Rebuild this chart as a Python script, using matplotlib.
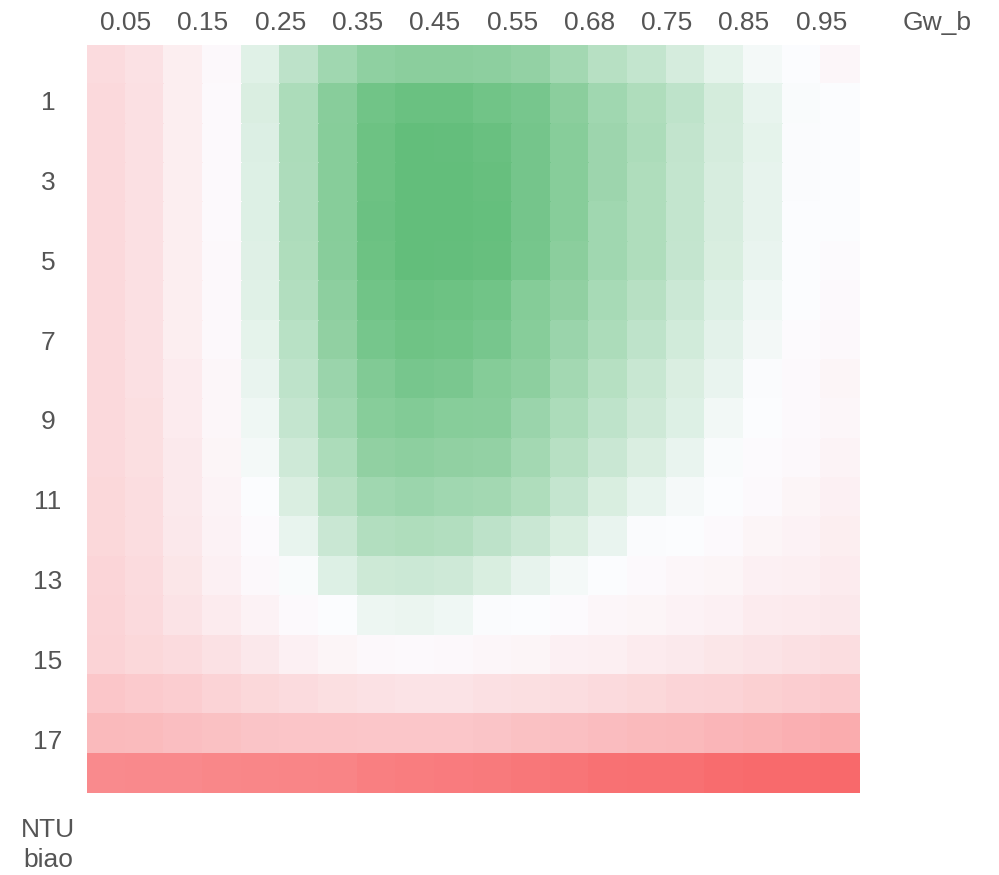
import numpy as np
import matplotlib
matplotlib.use("Agg")
import matplotlib.pyplot as plt
from matplotlib.colors import LinearSegmentedColormap

# column / row labels (only every other cell is labelled)
x_labels = ['0.05', '0.15', '0.25', '0.35', '0.45', '0.55', '0.68', '0.75', '0.85', '0.95']
y_labels = ['1', '3', '5', '7', '9', '11', '13', '15', '17']

# colour-scale score: -1 = full red, 0 = white, 1 = full green
score = [
    [-0.22, -0.18, -0.10, -0.03, 0.18, 0.41, 0.60, 0.71, 0.74, 0.74, 0.72, 0.68, 0.58, 0.45, 0.37, 0.25, 0.15, 0.05, 0.00, -0.04],
    [-0.24, -0.19, -0.10, -0.02, 0.22, 0.52, 0.75, 0.90, 0.95, 0.95, 0.90, 0.86, 0.74, 0.60, 0.50, 0.40, 0.26, 0.13, 0.02, 0.00],
    [-0.24, -0.19, -0.10, -0.02, 0.21, 0.52, 0.76, 0.93, 1.00, 0.99, 0.96, 0.88, 0.76, 0.62, 0.52, 0.38, 0.25, 0.15, 0.01, 0.00],
    [-0.24, -0.19, -0.10, -0.02, 0.20, 0.51, 0.76, 0.93, 1.00, 1.00, 0.97, 0.88, 0.76, 0.62, 0.50, 0.37, 0.24, 0.14, 0.01, 0.00],
    [-0.24, -0.19, -0.10, -0.02, 0.20, 0.51, 0.76, 0.94, 1.00, 1.00, 0.98, 0.88, 0.76, 0.60, 0.50, 0.37, 0.24, 0.14, 0.00, 0.00],
    [-0.24, -0.19, -0.10, -0.03, 0.19, 0.50, 0.75, 0.93, 1.00, 0.99, 0.97, 0.87, 0.74, 0.60, 0.50, 0.36, 0.23, 0.12, 0.00, -0.01],
    [-0.24, -0.19, -0.10, -0.03, 0.18, 0.48, 0.72, 0.90, 0.95, 0.93, 0.90, 0.78, 0.70, 0.55, 0.45, 0.32, 0.20, 0.08, 0.00, -0.02],
    [-0.24, -0.19, -0.10, -0.03, 0.15, 0.44, 0.70, 0.87, 0.92, 0.90, 0.86, 0.76, 0.64, 0.52, 0.40, 0.28, 0.16, 0.06, -0.01, -0.03],
    [-0.24, -0.19, -0.11, -0.04, 0.12, 0.40, 0.64, 0.80, 0.86, 0.85, 0.78, 0.72, 0.58, 0.46, 0.34, 0.22, 0.12, 0.01, -0.02, -0.05],
    [-0.24, -0.20, -0.11, -0.04, 0.08, 0.36, 0.60, 0.76, 0.79, 0.76, 0.75, 0.64, 0.52, 0.40, 0.30, 0.20, 0.07, 0.00, -0.02, -0.04],
    [-0.24, -0.20, -0.13, -0.05, 0.05, 0.30, 0.52, 0.70, 0.72, 0.70, 0.68, 0.58, 0.45, 0.33, 0.22, 0.12, 0.02, -0.01, -0.03, -0.06],
    [-0.25, -0.21, -0.13, -0.06, 0.00, 0.22, 0.45, 0.60, 0.63, 0.60, 0.58, 0.50, 0.36, 0.23, 0.13, 0.04, 0.00, -0.02, -0.05, -0.08],
    [-0.25, -0.21, -0.14, -0.07, -0.01, 0.13, 0.33, 0.48, 0.50, 0.48, 0.41, 0.33, 0.23, 0.12, 0.01, 0.00, -0.02, -0.05, -0.07, -0.10],
    [-0.26, -0.22, -0.15, -0.08, -0.03, 0.02, 0.20, 0.31, 0.32, 0.30, 0.23, 0.14, 0.05, 0.00, -0.02, -0.04, -0.05, -0.08, -0.09, -0.11],
    [-0.27, -0.23, -0.17, -0.11, -0.07, -0.02, 0.00, 0.10, 0.11, 0.08, 0.01, 0.00, -0.01, -0.04, -0.05, -0.07, -0.08, -0.11, -0.12, -0.14],
    [-0.28, -0.25, -0.22, -0.18, -0.14, -0.08, -0.05, -0.03, -0.02, -0.03, -0.04, -0.05, -0.08, -0.09, -0.11, -0.13, -0.15, -0.17, -0.19, -0.21],
    [-0.36, -0.34, -0.32, -0.28, -0.25, -0.22, -0.20, -0.18, -0.17, -0.17, -0.19, -0.20, -0.21, -0.23, -0.25, -0.27, -0.28, -0.30, -0.32, -0.34],
    [-0.45, -0.44, -0.42, -0.40, -0.38, -0.37, -0.37, -0.36, -0.36, -0.36, -0.38, -0.40, -0.41, -0.43, -0.45, -0.46, -0.48, -0.50, -0.52, -0.54],
    [-0.77, -0.78, -0.78, -0.79, -0.80, -0.81, -0.82, -0.85, -0.86, -0.87, -0.88, -0.90, -0.92, -0.94, -0.95, -0.95, -0.97, -0.99, -0.99, -1.00],
]

plt.rcParams['font.family'] = ['Liberation Sans', 'DejaVu Sans']
txt_color = '#555555'

cmap = LinearSegmentedColormap.from_list('rwg', ['#F8696B', '#FCFCFF', '#63BE7B'])
data = np.array(score)
n_rows, n_cols = data.shape

fig = plt.figure(figsize=(9.99, 8.75), dpi=100)
W, H = 999, 875
ax = fig.add_axes([87 / W, 1 - 793 / H, (860 - 87) / W, (793 - 45) / H])

ax.pcolormesh(np.arange(n_cols + 1), np.arange(n_rows + 1), data,
              cmap=cmap, vmin=-1, vmax=1, shading='flat',
              edgecolors='face', linewidth=0.3)
ax.set_xlim(0, n_cols)
ax.set_ylim(n_rows, 0)

for s in ax.spines.values():
    s.set_visible(False)

# top labels sit between pairs of cells
ax.xaxis.tick_top()
ax.set_xticks(np.arange(1, n_cols, 2))
ax.set_xticklabels(x_labels, fontsize=19, color=txt_color)
ax.tick_params(axis='x', length=0, pad=7)

# row labels: the label column is spaced a touch wider than the cells
ax.set_yticks([])
for i, lab in enumerate(y_labels):
    ypix = 103 + 79.85 * i
    fig.text(48 / W, 1 - ypix / H, lab, ha='center', va='center',
             fontsize=19, color=txt_color)

fig.text(937 / W, 1 - 23 / H, 'Gw_b', ha='center', va='center',
         fontsize=19, color=txt_color)
fig.text(48 / W, 1 - 830 / H, 'NTU', ha='center', va='center',
         fontsize=19, color=txt_color)
fig.text(48 / W, 1 - 860 / H, 'biao', ha='center', va='center',
         fontsize=19, color=txt_color)

fig.savefig('out.png', dpi=100)
